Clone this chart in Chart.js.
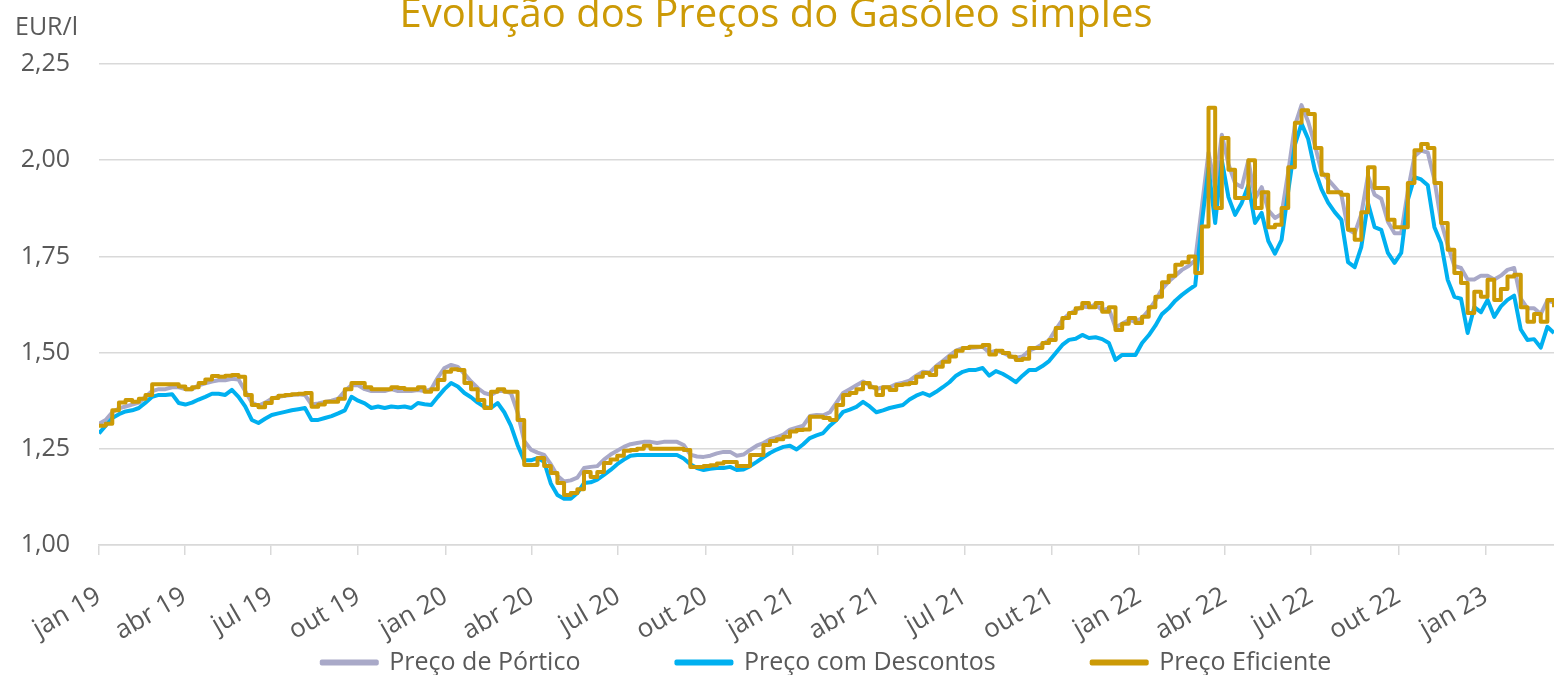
<!DOCTYPE html>
<html lang="pt">
<head>
<meta charset="utf-8">
<title>Evolução dos Preços do Gasóleo simples</title>
<script src="https://cdn.jsdelivr.net/npm/chart.js@4.4.1/dist/chart.umd.min.js"></script>
<style>
  html, body { margin: 0; padding: 0; background: #fff; }
  #wrap { width: 1554px; height: 675px; }
</style>
</head>
<body>
<div id="wrap"><canvas id="chart" width="1554" height="675"></canvas></div>
<script>
const chartTitle = 'Evolução dos Preços do Gasóleo simples';
const unitLabel = 'EUR/l';

// one observation per week, counted in days from 1 jan 2019
const weekDays = [];
for (let i = 0; i < 220; i++) weekDays.push(i * 7);

// quarter starts, days from 1 jan 2019
const tickDays = [0, 90, 181, 273, 365, 456, 547, 639, 731, 821, 912, 1004, 1096, 1186, 1277, 1369, 1461];
const tickLabels = ['jan 19', 'abr 19', 'jul 19', 'out 19', 'jan 20', 'abr 20', 'jul 20', 'out 20',
  'jan 21', 'abr 21', 'jul 21', 'out 21', 'jan 22', 'abr 22', 'jul 22', 'out 22', 'jan 23'];

const precoPortico = [
  1.315, 1.325, 1.345, 1.355, 1.360, 1.365, 1.370, 1.385, 1.400, 1.405,
  1.405, 1.410, 1.410, 1.405, 1.405, 1.415, 1.420, 1.425, 1.428, 1.428,
  1.432, 1.430, 1.400, 1.370, 1.362, 1.370, 1.380, 1.385, 1.388, 1.390,
  1.392, 1.390, 1.365, 1.368, 1.372, 1.375, 1.380, 1.400, 1.415, 1.415,
  1.405, 1.400, 1.400, 1.400, 1.405, 1.400, 1.400, 1.400, 1.403, 1.400,
  1.405, 1.435, 1.460, 1.468, 1.463, 1.445, 1.425, 1.408, 1.395, 1.390,
  1.400, 1.400, 1.395, 1.345, 1.270, 1.248, 1.240, 1.234, 1.210, 1.180,
  1.165, 1.168, 1.175, 1.200, 1.203, 1.205, 1.222, 1.235, 1.245, 1.255,
  1.262, 1.265, 1.268, 1.268, 1.265, 1.268, 1.268, 1.268, 1.260, 1.235,
  1.230, 1.229, 1.232, 1.238, 1.242, 1.242, 1.232, 1.235, 1.247, 1.258,
  1.265, 1.275, 1.280, 1.287, 1.300, 1.305, 1.310, 1.335, 1.338, 1.337,
  1.345, 1.370, 1.395, 1.405, 1.415, 1.425, 1.415, 1.405, 1.410, 1.410,
  1.418, 1.422, 1.427, 1.440, 1.450, 1.448, 1.465, 1.478, 1.492, 1.505,
  1.512, 1.512, 1.513, 1.515, 1.500, 1.505, 1.500, 1.492, 1.486, 1.490,
  1.505, 1.512, 1.522, 1.532, 1.560, 1.585, 1.600, 1.610, 1.620, 1.618,
  1.625, 1.610, 1.615, 1.565, 1.575, 1.585, 1.580, 1.590, 1.610, 1.635,
  1.665, 1.685, 1.700, 1.715, 1.725, 1.740, 1.880, 2.020, 1.930, 2.066,
  1.990, 1.940, 1.930, 2.000, 1.900, 1.930, 1.870, 1.850, 1.860, 1.970,
  2.090, 2.143, 2.100, 2.040, 1.970, 1.950, 1.930, 1.910, 1.820, 1.810,
  1.860, 1.960, 1.910, 1.900, 1.840, 1.810, 1.810, 1.920, 2.010, 2.025,
  2.020, 1.950, 1.840, 1.780, 1.725, 1.720, 1.690, 1.690, 1.700, 1.700,
  1.690, 1.700, 1.715, 1.720, 1.640, 1.615, 1.615, 1.600, 1.635, 1.630
];

const precoDescontos = [
  1.290, 1.310, 1.330, 1.340, 1.347, 1.350, 1.356, 1.370, 1.385, 1.390,
  1.390, 1.392, 1.369, 1.365, 1.370, 1.378, 1.385, 1.393, 1.393, 1.390,
  1.403, 1.385, 1.360, 1.325, 1.317, 1.328, 1.338, 1.342, 1.346, 1.350,
  1.353, 1.356, 1.325, 1.325, 1.330, 1.335, 1.342, 1.350, 1.385, 1.375,
  1.368, 1.356, 1.360, 1.356, 1.360, 1.358, 1.360, 1.356, 1.369, 1.366,
  1.364, 1.385, 1.405, 1.421, 1.412, 1.395, 1.384, 1.370, 1.359, 1.356,
  1.369, 1.345, 1.310, 1.260, 1.220, 1.220, 1.226, 1.216, 1.160, 1.130,
  1.120, 1.120, 1.135, 1.161, 1.163, 1.170, 1.182, 1.195, 1.210, 1.222,
  1.232, 1.234, 1.234, 1.234, 1.234, 1.234, 1.234, 1.234, 1.225, 1.210,
  1.200, 1.195, 1.198, 1.200, 1.200, 1.203, 1.195, 1.196, 1.205, 1.216,
  1.228, 1.239, 1.248, 1.255, 1.258, 1.248, 1.262, 1.278, 1.285, 1.291,
  1.310, 1.325, 1.346, 1.352, 1.359, 1.372, 1.360, 1.345, 1.350, 1.356,
  1.360, 1.364, 1.378, 1.388, 1.395, 1.388, 1.398, 1.410, 1.423, 1.440,
  1.450, 1.455, 1.455, 1.460, 1.440, 1.452, 1.445, 1.435, 1.423, 1.440,
  1.455, 1.455, 1.465, 1.478, 1.499, 1.520, 1.533, 1.536, 1.546, 1.538,
  1.540, 1.535, 1.525, 1.481, 1.494, 1.494, 1.494, 1.525, 1.545, 1.570,
  1.600, 1.615, 1.635, 1.650, 1.663, 1.675, 1.837, 1.980, 1.837, 2.000,
  1.904, 1.858, 1.889, 1.935, 1.837, 1.863, 1.790, 1.757, 1.793, 1.920,
  2.040, 2.095, 2.055, 1.975, 1.925, 1.890, 1.865, 1.845, 1.735, 1.722,
  1.775, 1.889, 1.826, 1.819, 1.759, 1.733, 1.759, 1.897, 1.956, 1.950,
  1.935, 1.826, 1.785, 1.689, 1.645, 1.640, 1.551, 1.618, 1.605, 1.637,
  1.593, 1.620, 1.637, 1.648, 1.560, 1.533, 1.535, 1.513, 1.567, 1.551
];

const precoEficiente = [
  1.310, 1.315, 1.350, 1.370, 1.377, 1.372, 1.380, 1.390, 1.418, 1.418,
  1.418, 1.418, 1.412, 1.405, 1.410, 1.421, 1.430, 1.439, 1.437, 1.440,
  1.442, 1.437, 1.390, 1.364, 1.358, 1.369, 1.382, 1.388, 1.390, 1.392,
  1.393, 1.395, 1.359, 1.365, 1.372, 1.372, 1.380, 1.405, 1.421, 1.421,
  1.410, 1.405, 1.405, 1.405, 1.410, 1.408, 1.405, 1.405, 1.410, 1.398,
  1.405, 1.429, 1.450, 1.457, 1.455, 1.421, 1.405, 1.377, 1.356, 1.398,
  1.405, 1.398, 1.398, 1.325, 1.208, 1.208, 1.226, 1.205, 1.187, 1.161,
  1.130, 1.135, 1.145, 1.190, 1.177, 1.190, 1.213, 1.222, 1.232, 1.245,
  1.247, 1.250, 1.258, 1.250, 1.250, 1.250, 1.250, 1.250, 1.247, 1.203,
  1.203, 1.205, 1.207, 1.212, 1.216, 1.216, 1.205, 1.205, 1.234, 1.234,
  1.260, 1.270, 1.275, 1.281, 1.295, 1.299, 1.300, 1.333, 1.333, 1.330,
  1.325, 1.364, 1.390, 1.395, 1.405, 1.421, 1.410, 1.390, 1.410, 1.403,
  1.416, 1.418, 1.421, 1.437, 1.447, 1.442, 1.463, 1.476, 1.490, 1.505,
  1.512, 1.515, 1.515, 1.520, 1.495, 1.505, 1.499, 1.489, 1.481, 1.484,
  1.512, 1.512, 1.525, 1.533, 1.564, 1.590, 1.603, 1.615, 1.629, 1.618,
  1.629, 1.606, 1.618, 1.559, 1.575, 1.590, 1.577, 1.593, 1.618, 1.645,
  1.683, 1.700, 1.728, 1.735, 1.750, 1.707, 1.828, 2.136, 1.876, 2.058,
  1.975, 1.902, 1.902, 2.000, 1.876, 1.917, 1.826, 1.832, 1.876, 1.982,
  2.097, 2.130, 2.120, 2.032, 1.962, 1.917, 1.917, 1.910, 1.819, 1.793,
  1.865, 1.982, 1.928, 1.928, 1.845, 1.826, 1.826, 1.941, 2.026, 2.042,
  2.032, 1.941, 1.837, 1.767, 1.707, 1.681, 1.603, 1.658, 1.645, 1.689,
  1.637, 1.665, 1.698, 1.702, 1.618, 1.580, 1.600, 1.580, 1.637, 1.618
];

const textColor = '#595959';
const gridColor = '#D9D9D9';
const goldColor = '#CC9A06';
const blueColor = '#00B0F0';
const greyColor = '#A9A9C8';

Chart.defaults.font.family = '"Open Sans", sans-serif';

function toPoints(values) {
  return values.map((v, i) => ({ x: weekDays[i], y: v }));
}

function lineDataset(label, values, color, stepped) {
  return {
    label: label,
    data: toPoints(values),
    borderColor: color,
    backgroundColor: color,
    borderWidth: 4,
    pointRadius: 0,
    borderJoinStyle: 'round',
    stepped: stepped,
    fill: false
  };
}

// title sits partly above the canvas edge, like in the source picture
const headerPlugin = {
  id: 'header',
  afterLayout(chart) {
    // the wide legend gap leaves the x axis a thin box; let its rotated
    // labels use the empty space down to the legend text
    const x = chart.scales.x;
    x.bottom = chart.height;
    x.height = x.bottom - x.top;
  },
  afterDraw(chart) {
    const ctx = chart.ctx;
    ctx.save();
    ctx.fillStyle = goldColor;
    ctx.font = '40px "Open Sans"';
    ctx.textAlign = 'center';
    ctx.textBaseline = 'alphabetic';
    ctx.fillText(chartTitle, 776, 27);
    ctx.fillStyle = textColor;
    ctx.font = '25px "Open Sans"';
    ctx.textAlign = 'left';
    ctx.fillText(unitLabel, 15, 35);
    ctx.restore();
  }
};

new Chart(document.getElementById('chart'), {
  type: 'line',
  data: {
    // gold first so it is painted on top; legend order is reversed below
    datasets: [
      lineDataset('Preço Eficiente', precoEficiente, goldColor, true),
      lineDataset('Preço com Descontos', precoDescontos, blueColor, false),
      lineDataset('Preço de Pórtico', precoPortico, greyColor, false)
    ]
  },
  options: {
    responsive: false,
    animation: false,
    devicePixelRatio: 1,
    layout: { padding: { top: 64, right: 0, bottom: -10, left: 0 } },
    plugins: {
      title: { display: false },
      tooltip: { enabled: false },
      legend: {
        position: 'bottom',
        fullSize: false,
        labels: {
          boxWidth: 55,
          boxHeight: 2,
          padding: 96,
          color: textColor,
          font: { size: 25 },
          sort: (a, b) => b.datasetIndex - a.datasetIndex
        }
      }
    },
    scales: {
      x: {
        type: 'linear',
        min: 0,
        max: 1533,
        afterBuildTicks: (scale) => {
          scale.ticks = tickDays.map(v => ({ value: v }));
        },
        afterFit: (scale) => { scale.height = 9; },
        ticks: {
          autoSkip: false,
          minRotation: 30,
          maxRotation: 30,
          padding: 26,
          color: textColor,
          font: { size: 26 },
          callback: (v) => tickLabels[tickDays.indexOf(v)]
        },
        grid: {
          drawOnChartArea: false,
          tickLength: 10,
          color: gridColor,
          lineWidth: 1.5
        },
        border: { color: gridColor, width: 1.5 }
      },
      y: {
        min: 1,
        max: 2.25,
        afterFit: (scale) => { scale.width = 99; },
        ticks: {
          stepSize: 0.25,
          padding: 29,
          color: textColor,
          font: { size: 25 },
          callback: (v) => v.toFixed(2).replace('.', ',')
        },
        grid: { color: gridColor, lineWidth: 1.5, drawTicks: false },
        border: { display: false }
      }
    }
  },
  plugins: [headerPlugin]
});
</script>
</body>
</html>
